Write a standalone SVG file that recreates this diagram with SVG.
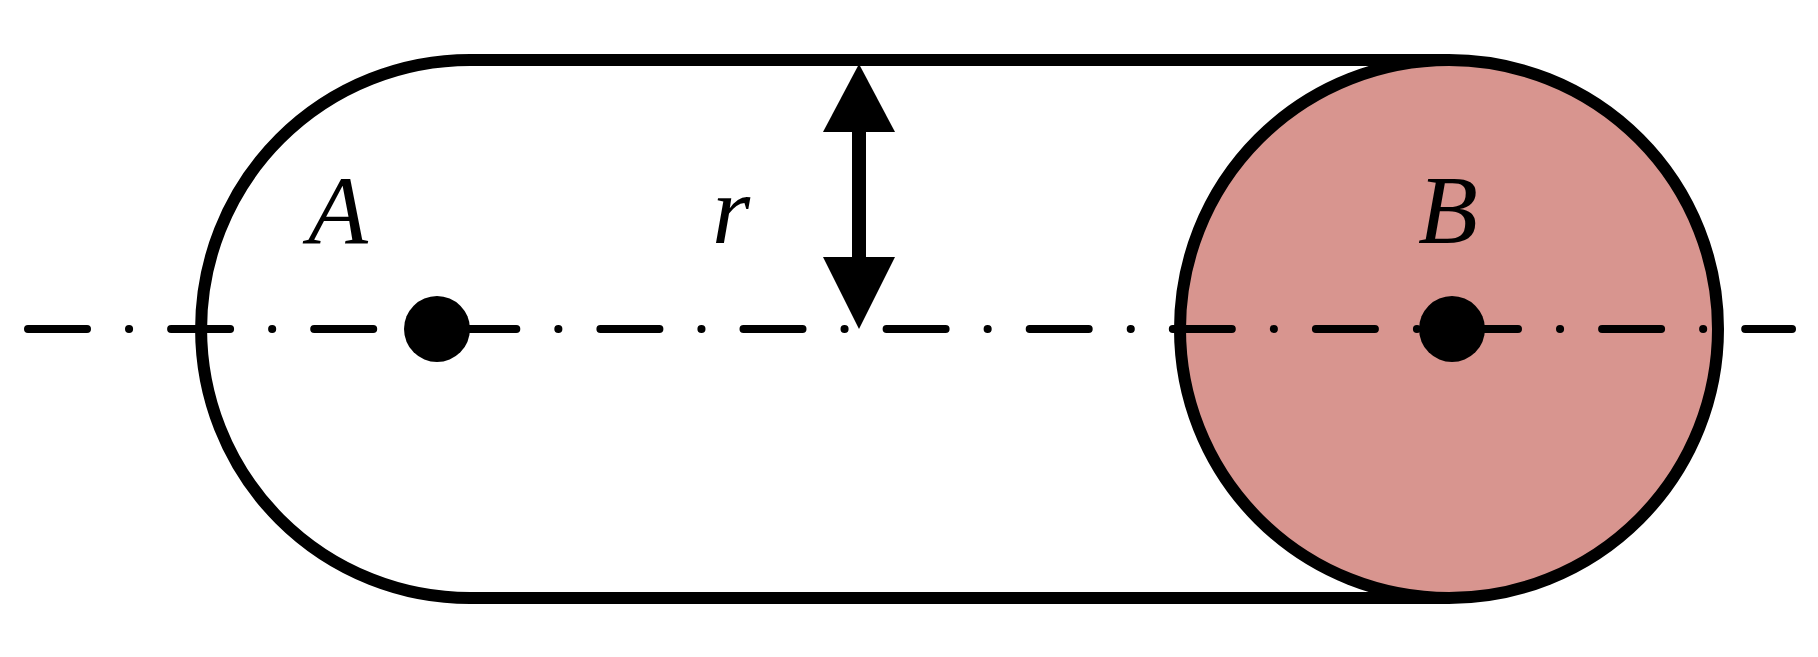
<svg xmlns="http://www.w3.org/2000/svg" width="1818" height="657" viewBox="0 0 1818 657">
<style>
.o{fill:none;stroke:#000;stroke-width:12}
.t{font-family:"Liberation Serif",serif;font-style:italic;font-size:98px;fill:#000}
</style>
<rect width="1818" height="657" fill="#fff"/>
<g id="cylinder">
<path class="o" d="M470 60 A269 269 0 0 0 470 598 L1449 598 M470 60 L1449 60"/>
<circle cx="1449" cy="329" r="269" fill="#d8958f" stroke="#000" stroke-width="12"/>
</g>
<g id="axis">
<line x1="28" y1="329" x2="1792" y2="329" stroke="#000" stroke-width="8" stroke-linecap="round" stroke-dasharray="59 42 0.1 42"/>
</g>
<g id="A"><circle cx="437" cy="329" r="33"/><text class="t" x="308" y="243">A</text></g>
<g id="B"><circle cx="1452" cy="329" r="33"/><text class="t" x="1418" y="243">B</text></g>
<g id="radius">
<rect x="852" y="125" width="14" height="140"/>
<polygon points="859,64 823,132 895,132"/>
<polygon points="859,329 823,257 895,257"/>
<text class="t" x="712" y="243">r</text>
</g>
</svg>
